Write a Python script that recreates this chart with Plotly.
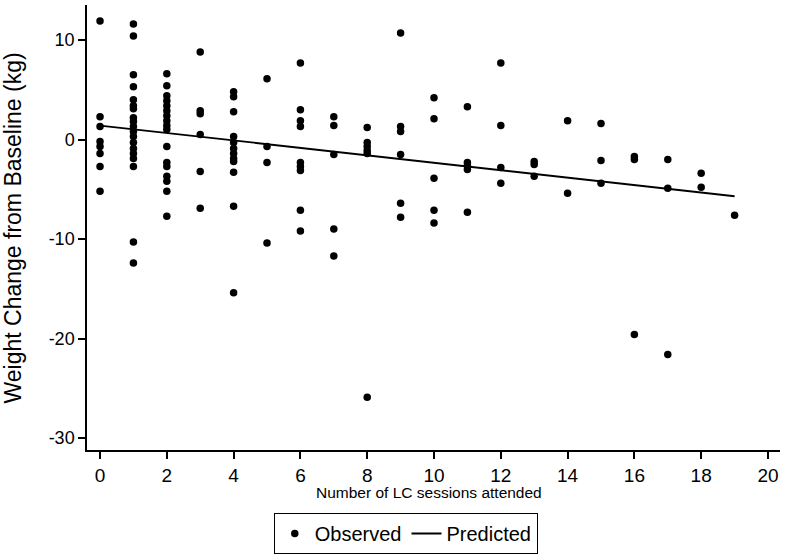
import plotly.graph_objects as go

# Observed data: sessions attended (x) and weight change (kg)
obs = {
    0: [11.9, 2.3, 1.3, -0.2, -0.7, -1.4, -2.7, -5.2],
    1: [11.6, 10.4, 6.5, 5.3, 4.0, 3.4, 3.1, 2.2, 1.8, 1.3, 0.8, 0.3, -0.3, -0.9, -1.4, -1.9, -2.7, -10.3, -12.4],
    2: [6.6, 5.4, 4.4, 3.9, 3.4, 2.9, 2.4, 1.9, 1.4, 1.0, -0.7, -2.3, -2.7, -3.7, -4.2, -5.2, -7.7],
    3: [8.8, 2.9, 2.6, 0.5, -3.2, -6.9],
    4: [4.8, 4.3, 2.8, 0.3, -0.3, -0.9, -1.4, -1.9, -2.2, -3.3, -6.7, -15.4],
    5: [6.1, -0.7, -2.3, -10.4],
    6: [7.7, 3.0, 1.9, 1.3, -2.3, -2.7, -3.1, -7.1, -9.2],
    7: [2.3, 1.4, -1.5, -9.0, -11.7],
    8: [1.2, -0.3, -0.7, -1.1, -1.4, -25.9],
    9: [10.7, 1.3, 0.8, -1.5, -6.4, -7.8],
    10: [4.2, 2.1, -3.9, -7.1, -8.4],
    11: [3.3, -2.3, -2.6, -3.0, -7.3],
    12: [7.7, 1.4, -2.8, -4.4],
    13: [-2.2, -2.5, -3.7],
    14: [1.9, -5.4],
    15: [1.6, -2.1, -4.4],
    16: [-1.7, -2.0, -19.6],
    17: [-2.0, -4.9, -21.6],
    18: [-3.4, -4.8],
    19: [-7.6],
}
obs_x = [k for k, vals in obs.items() for _ in vals]
obs_y = [v for vals in obs.values() for v in vals]

pred_x = [0, 19]
pred_y = [1.4, -5.7]

x_ticks = list(range(0, 21, 2))
y_ticks = [-30, -20, -10, 0, 10]

x_title = "Number of LC sessions attended"
y_title = "Weight Change from Baseline (kg)"

fig = go.Figure()
fig.add_trace(go.Scatter(
    x=obs_x, y=obs_y, mode="markers", name="Observed",
    marker=dict(color="black", size=7.5, line=dict(width=0)),
))
fig.add_trace(go.Scatter(
    x=pred_x, y=pred_y, mode="lines", name="Predicted",
    line=dict(color="black", width=1.8),
))

fig.update_layout(
    width=788, height=555,
    margin=dict(l=87, r=8, t=5, b=105, autoexpand=False),
    paper_bgcolor="white", plot_bgcolor="white",
    font=dict(family="Liberation Sans, Arial, sans-serif", color="black", size=18),
    showlegend=True,
    legend=dict(
        orientation="h", x=0.46, xanchor="center", y=-0.1416, yanchor="top",
        bordercolor="black", borderwidth=1, font=dict(size=20),
    ),
    xaxis=dict(
        range=[-0.39, 20.36], tickvals=x_ticks, ticktext=[str(t) for t in x_ticks],
        showline=True, linecolor="black", linewidth=1.5, ticks="outside",
        ticklen=7, tickwidth=1.5, tickcolor="black", showgrid=False, zeroline=False,
        automargin=False, tickfont=dict(size=19),
    ),
    yaxis=dict(
        range=[-31.2, 13.52], tickvals=y_ticks, ticktext=[str(t) for t in y_ticks],
        showline=True, linecolor="black", linewidth=1.5, ticks="outside",
        ticklen=7, tickwidth=1.5, tickcolor="black", showgrid=False, zeroline=False,
        automargin=False, tickfont=dict(size=18),
    ),
    annotations=[
        dict(text=y_title, xref="paper", yref="paper", x=-0.1068, y=0.5,
             xanchor="center", yanchor="middle", textangle=-90, showarrow=False,
             font=dict(size=23)),
        dict(text=x_title, xref="paper", yref="paper", x=0.4935, y=-0.0944,
             xanchor="center", yanchor="middle", showarrow=False,
             font=dict(size=15.5)),
    ],
)

fig.write_html("out.html", config={"displayModeBar": False},
               post_script="document.body.style.margin='0px';")
